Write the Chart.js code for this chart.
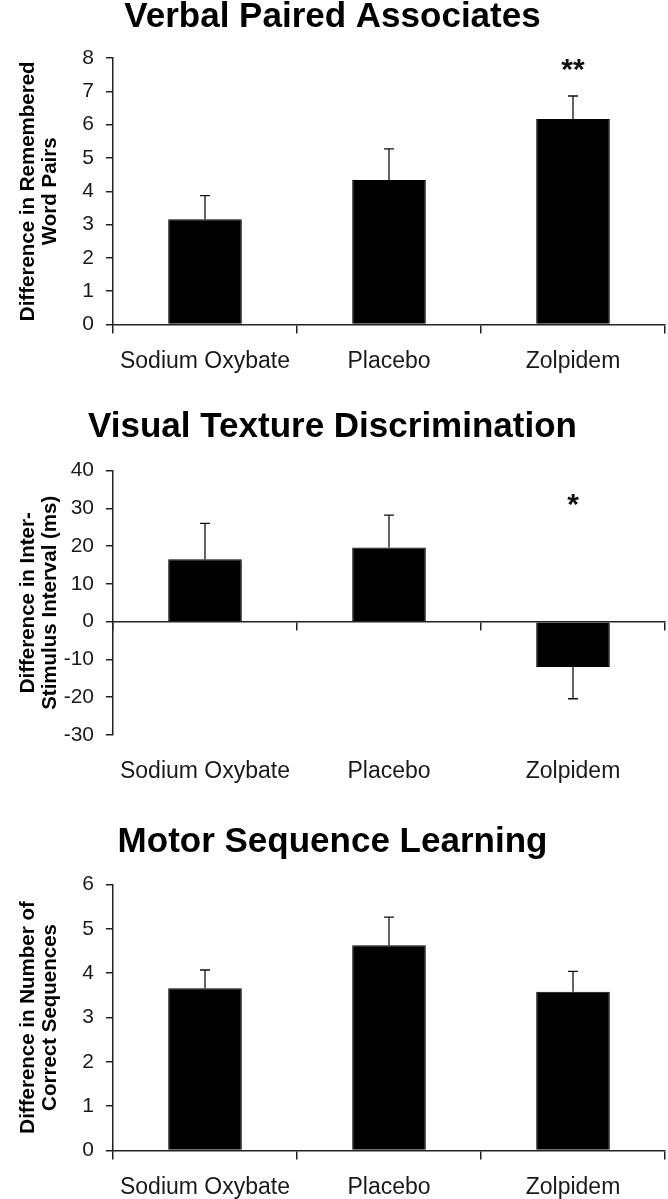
<!doctype html>
<html lang="en">
    <head>
        <meta charset="UTF-8" />
        <title>Sleep drugs and memory tasks</title>
        <style>
            html, body { margin: 0; padding: 0; background: #fff; }
            body { width: 668px; }
            canvas { display: block; }
        </style>
    </head>
    <body>
        <canvas id="vpa" width="668" height="400"></canvas>
        <canvas id="vtd" width="668" height="400"></canvas>
        <canvas id="msl" width="668" height="399"></canvas>

        <script src="https://cdn.jsdelivr.net/npm/chart.js"></script>
        <script>
            // --- data ---
            const groups = ["Sodium Oxybate", "Placebo", "Zolpidem"];

            const vpaTitle = "Verbal Paired Associates";
            const vpaAxisTitle = ["Difference in Remembered", "Word Pairs"];
            const vpaMeans = [3.16, 4.34, 6.17];
            const vpaErrors = [0.71, 0.93, 0.69];
            const vpaStars = ["", "", "**"];
            const vpaStarAt = [null, null, 7.74];
            const vpaTicks = { min: 0, max: 8, step: 1 };

            const vtdTitle = "Visual Texture Discrimination";
            const vtdAxisTitle = ["Difference in Inter-", "Stimulus Interval (ms)"];
            const vtdMeans = [16.5, 19.6, -12.0];
            const vtdErrors = [9.5, 8.6, 8.4];
            const vtdStars = ["", "", "*"];
            const vtdStarAt = [null, null, 31.7];
            const vtdTicks = { min: -30, max: 40, step: 10 };

            const mslTitle = "Motor Sequence Learning";
            const mslAxisTitle = ["Difference in Number of", "Correct Sequences"];
            const mslMeans = [3.66, 4.63, 3.58];
            const mslErrors = [0.41, 0.63, 0.46];
            const mslStars = ["", "", ""];
            const mslStarAt = [null, null, null];
            const mslTicks = { min: 0, max: 6, step: 1 };

            const FONT = "'Liberation Sans', Arial, Helvetica, sans-serif";
            const ink = "#1a1a1a";
            const axisColor = "#222";
            const starSize = 30;

            // draws SEM whiskers (outward from the bar) and significance stars
            function errorBarPlugin(means, errors, stars, starAt) {
                return {
                    id: "errorBars",
                    afterDatasetsDraw(chart) {
                        const ctx = chart.ctx;
                        const yScale = chart.scales.y;
                        const bars = chart.getDatasetMeta(0).data;
                        ctx.save();
                        ctx.strokeStyle = "#111";
                        ctx.lineWidth = 1.3;
                        bars.forEach((bar, i) => {
                            const m = means[i];
                            const end = m >= 0 ? m + errors[i] : m - errors[i];
                            const y0 = yScale.getPixelForValue(m);
                            const y1 = yScale.getPixelForValue(end);
                            ctx.beginPath();
                            ctx.moveTo(bar.x, y0);
                            ctx.lineTo(bar.x, y1);
                            ctx.moveTo(bar.x - 5, y1);
                            ctx.lineTo(bar.x + 5, y1);
                            ctx.stroke();
                        });
                        // stars
                        ctx.fillStyle = "#111";
                        ctx.font = "bold " + starSize + "px " + FONT;
                        ctx.textAlign = "center";
                        ctx.textBaseline = "alphabetic";
                        bars.forEach((bar, i) => {
                            if (!stars[i]) return;
                            const y = yScale.getPixelForValue(starAt[i]);
                            ctx.fillText(stars[i], bar.x, y + 0.4 * starSize);
                        });
                        ctx.restore();
                    },
                };
            }

            function makePanel(id, p) {
                const canvas = document.getElementById(id);
                const H = canvas.height;
                return new Chart(canvas, {
                    type: "bar",
                    data: {
                        labels: groups,
                        datasets: [
                            {
                                data: p.means,
                                backgroundColor: "#000",
                                borderColor: "#000",
                                borderWidth: 1,
                                barPercentage: 0.4,
                                categoryPercentage: 1.0,
                                xAxisID: "x",
                                yAxisID: "y",
                            },
                        ],
                    },
                    options: {
                        responsive: false,
                        animation: false,
                        layout: { padding: { left: 0, right: 3, top: 0, bottom: 0 } },
                        plugins: {
                            legend: { display: false },
                            tooltip: { enabled: false },
                            title: {
                                display: true,
                                text: p.title,
                                color: "#000",
                                font: { family: FONT, size: 35, weight: "bold", lineHeight: 0.82 },
                                padding: { top: p.titleTop, bottom: p.titleBottom },
                            },
                        },
                        scales: {
                            // axis line sitting on y = 0, with the ticks between groups
                            x: {
                                type: "category",
                                position: { y: 0 },
                                offset: true,
                                ticks: { display: false },
                                grid: {
                                    offset: true,
                                    drawOnChartArea: false,
                                    drawTicks: true,
                                    tickLength: 8,
                                    color: axisColor,
                                    lineWidth: 1.5,
                                },
                                border: { display: true, color: axisColor, width: 1.5 },
                            },
                            // group names, always at the bottom
                            xl: {
                                type: "category",
                                axis: "x",
                                labels: groups,
                                position: "bottom",
                                offset: true,
                                grid: { display: false, drawTicks: false },
                                border: { display: false },
                                ticks: {
                                    color: ink,
                                    font: { family: FONT, size: 23 },
                                    padding: 23,
                                    maxRotation: 0,
                                    autoSkip: false,
                                },
                                afterFit: (s) => {
                                    s.height = H - p.bottom;
                                },
                            },
                            y: {
                                min: p.ticks.min,
                                max: p.ticks.max,
                                ticks: {
                                    stepSize: p.ticks.step,
                                    color: ink,
                                    font: { family: FONT, size: 21 },
                                    padding: 12,
                                },
                                grid: {
                                    drawOnChartArea: false,
                                    drawTicks: true,
                                    tickLength: 7,
                                    color: axisColor,
                                    lineWidth: 1.5,
                                },
                                border: { display: true, color: axisColor, width: 1.5 },
                                title: {
                                    display: true,
                                    text: p.axisTitle,
                                    color: "#000",
                                    font: { family: FONT, size: 20.5, weight: "bold", lineHeight: 1.05 },
                                    padding: { top: 18, bottom: 0 },
                                },
                                afterFit: (s) => {
                                    s.width = 113;
                                },
                            },
                        },
                    },
                    plugins: [errorBarPlugin(p.means, p.errors, p.stars, p.starAt)],
                });
            }

            makePanel("vpa", {
                title: vpaTitle, axisTitle: vpaAxisTitle, means: vpaMeans, errors: vpaErrors,
                stars: vpaStars, starAt: vpaStarAt, ticks: vpaTicks,
                titleTop: 3, titleBottom: 26.3, bottom: 324.5,
            });
            makePanel("vtd", {
                title: vtdTitle, axisTitle: vtdAxisTitle, means: vtdMeans, errors: vtdErrors,
                stars: vtdStars, starAt: vtdStarAt, ticks: vtdTicks,
                titleTop: 12.6, titleBottom: 29.2, bottom: 335,
            });
            makePanel("msl", {
                title: mslTitle, axisTitle: mslAxisTitle, means: mslMeans, errors: mslErrors,
                stars: mslStars, starAt: mslStarAt, ticks: mslTicks,
                titleTop: 27.6, titleBottom: 28.1, bottom: 350.5,
            });
        </script>
    </body>
</html>
